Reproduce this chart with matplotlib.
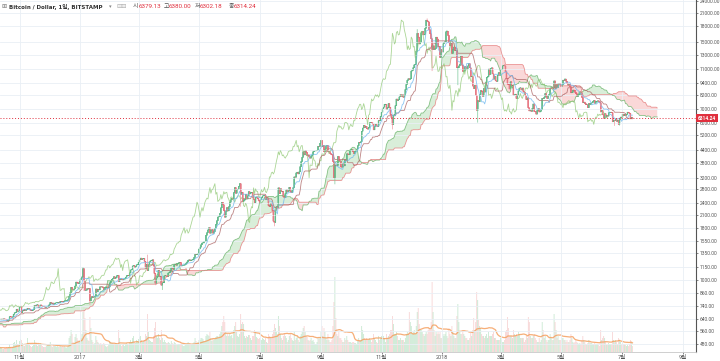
import numpy as np
import pandas as pd
import matplotlib
matplotlib.use('Agg')
import matplotlib.pyplot as plt
import matplotlib.dates as mdates
from matplotlib.ticker import NullLocator
from matplotlib.transforms import blended_transform_factory

# daily closes (BITSTAMP, USD), starting 2016-07-20
close_2016_07 = [665, 665, 650, 655, 660, 655, 652, 655, 655, 656, 655, 624]
close_2016_08 = [606, 540, 566, 575, 575, 587, 592, 591, 587, 592, 589, 587, 585, 570, 567, 581,
                 574, 574, 575, 581, 581, 587, 584, 579, 577, 579, 570, 574, 574, 577, 573]
close_2016_09 = [572, 575, 598, 609, 606, 610, 613, 627, 622, 623, 606, 608, 609, 610, 607,
                 607, 606, 610, 609, 608, 597, 596, 603, 602, 600, 607, 604, 604, 605, 609]
close_2016_10 = [613, 610, 611, 608, 612, 611, 617, 618, 615, 617, 640, 636, 636, 639, 637, 640,
                 638, 637, 630, 630, 632, 656, 655, 652, 655, 675, 686, 688, 715, 698, 700]
close_2016_11 = [730, 740, 688, 704, 703, 712, 705, 710, 723, 716, 716, 705, 702, 706, 712,
                 744, 740, 750, 750, 730, 738, 750, 742, 737, 740, 733, 730, 733, 733, 742]
close_2016_12 = [752, 772, 764, 767, 756, 761, 767, 768, 771, 774, 769, 780, 780, 778, 777, 784,
                 790, 790, 790, 799, 830, 862, 917, 892, 889, 900, 931, 974, 970, 957, 962]
close_2017_01 = [998, 1017, 1033, 1135, 989, 886, 888, 903, 899, 905, 785, 812, 826, 818, 822, 830,
                 900, 870, 897, 890, 922, 920, 922, 915, 893, 915, 918, 918, 913, 920, 965]
close_2017_02 = [985, 1006, 1015, 1035, 1015, 1025, 1046, 1050, 980, 1000, 1010, 999, 995, 1008,
                 1008, 1030, 1048, 1052, 1050, 1081, 1118, 1118, 1170, 1175, 1145, 1165, 1185, 1187]
close_2017_03 = [1220, 1255, 1280, 1260, 1270, 1275, 1235, 1150, 1190, 1110, 1185, 1225, 1240, 1245,
                 1255, 1175, 1075, 960, 1020, 1040, 1115, 1040, 1040, 940, 965, 965, 1045, 1045,
                 1040, 1035, 1080]
close_2017_04 = [1085, 1100, 1145, 1140, 1125, 1190, 1190, 1180, 1205, 1205, 1220, 1215, 1170, 1180,
                 1180, 1182, 1193, 1210, 1225, 1250, 1255, 1240, 1250, 1255, 1265, 1290, 1335, 1330,
                 1340, 1350]
close_2017_05 = [1420, 1450, 1490, 1520, 1520, 1545, 1550, 1660, 1710, 1765, 1810, 1700, 1760, 1770,
                 1700, 1730, 1800, 1880, 1960, 2045, 2050, 2130, 2270, 2420, 2350, 2200, 2040, 2180,
                 2275, 2190, 2300]
close_2017_06 = [2420, 2485, 2535, 2510, 2700, 2860, 2680, 2790, 2810, 2900, 2990, 2650, 2710, 2440,
                 2470, 2500, 2640, 2510, 2600, 2730, 2660, 2700, 2710, 2560, 2500, 2410, 2560, 2570,
                 2520, 2470]
close_2017_07 = [2420, 2500, 2550, 2600, 2600, 2600, 2500, 2550, 2500, 2330, 2300, 2390, 2340, 2200,
                 1950, 1920, 2210, 2300, 2270, 2850, 2670, 2820, 2740, 2740, 2580, 2550, 2670, 2790,
                 2720, 2760, 2870]
close_2017_08 = [2730, 2700, 2790, 2860, 3230, 3220, 3380, 3410, 3340, 3420, 3630, 3850, 4040, 4300,
                 4150, 4360, 4270, 4110, 4150, 4050, 4000, 4090, 4140, 4300, 4340, 4340, 4350, 4380,
                 4580, 4570, 4740]
close_2017_09 = [4900, 4550, 4620, 4300, 4440, 4600, 4620, 4300, 4310, 4220, 4180, 4150, 3850, 3200,
                 3700, 3690, 3680, 4080, 3900, 3870, 3620, 3610, 3780, 3660, 3920, 3880, 4200, 4190,
                 4160, 4340]
close_2017_10 = [4400, 4400, 4310, 4220, 4320, 4370, 4440, 4610, 4780, 4760, 4820, 5440, 5640, 5820,
                 5680, 5740, 5590, 5570, 5690, 5990, 6010, 5980, 5900, 5520, 5740, 5890, 5770, 5740,
                 6140, 6120, 6440]
close_2017_11 = [6740, 7030, 7160, 7390, 7390, 6960, 7110, 7450, 7140, 6580, 6340, 5860, 6530, 6600,
                 7280, 7850, 7690, 7780, 8040, 8240, 8100, 8230, 8010, 8200, 8750, 9280, 9720, 9890,
                 9820, 9890]
close_2017_12 = [10800, 10900, 11220, 11590, 11670, 13540, 16600, 15900, 14700, 15000, 16700, 17000,
                 16300, 16400, 17600, 19300, 19100, 18900, 17300, 16500, 15600, 13800, 14400, 13800,
                 13950, 15900, 15550, 14200, 14300, 12600, 13800]
close_2018_01 = [13400, 14750, 15000, 15100, 16900, 17000, 16200, 14900, 14400, 14800, 13200, 13800,
                 14200, 13600, 13600, 11200, 11200, 11450, 11700, 12800, 11550, 10750, 10800, 11350,
                 11200, 11100, 11450, 11750, 11200, 10100, 10150]
close_2018_02 = [9100, 8850, 9200, 8200, 6900, 7700, 7600, 8250, 8650, 8550, 8100, 8850, 8500, 9450,
                 10050, 10150, 11050, 10400, 11150, 11200, 10450, 9850, 10150, 9650, 9600, 10300,
                 10600, 10300]
close_2018_03 = [10950, 11000, 11450, 11500, 11450, 10700, 9900, 9300, 9250, 8800, 9550, 9150, 9150,
                 8200, 8250, 8300, 7900, 8200, 8600, 8900, 8900, 8700, 8900, 8550, 8450, 8150, 7800,
                 7950, 7100, 6850, 6930]
close_2018_04 = [6820, 7050, 7420, 6800, 6780, 6610, 6900, 7030, 6770, 6830, 6940, 7920, 7890, 8010,
                 8360, 8050, 7900, 8170, 8280, 8860, 8920, 8800, 8940, 9650, 8870, 9280, 8940, 9350,
                 9400, 9240]
close_2018_05 = [9070, 9220, 9740, 9700, 9860, 9620, 9370, 9190, 9320, 9020, 8420, 8480, 8700, 8680,
                 8480, 8340, 8060, 8240, 8240, 8520, 8400, 8000, 7540, 7580, 7460, 7350, 7350, 7110,
                 7460, 7380, 7490]
close_2018_06 = [7520, 7640, 7720, 7480, 7620, 7660, 7690, 7620, 7530, 6770, 6880, 6550, 6310, 6640,
                 6400, 6500, 6460, 6710, 6740, 6760, 6720, 6050, 6160, 6150, 6250, 6090, 6150, 5880,
                 6210, 6390]
close_2018_07 = [6350, 6610, 6500, 6590, 6530, 6600, 6760, 6710, 6660, 6300, 6379.13, 6314.24]

# daily volume in thousand BTC, starting 2016-09-20
vol_2016_09 = [4, 5, 4, 3, 3, 4, 4, 5, 4, 4, 5]
vol_2016_10 = [4, 3, 4, 4, 5, 4, 5, 3, 3, 4, 7, 6, 5, 4, 3, 3, 4, 4, 5, 4, 5, 8, 5, 4, 5, 9, 10, 8,
               12, 8, 7]
vol_2016_11 = [11, 13, 12, 9, 6, 6, 7, 8, 14, 9, 7, 6, 5, 6, 7, 12, 9, 9, 6, 8, 7, 9, 7, 6, 5, 5, 5,
               6, 7, 8]
vol_2016_12 = [8, 10, 6, 5, 7, 6, 6, 5, 6, 5, 5, 6, 5, 6, 5, 6, 5, 4, 5, 7, 14, 16, 22, 18, 10, 9,
               15, 18, 14, 12, 10]
vol_2017_01 = [12, 14, 18, 40, 46, 34, 22, 14, 12, 11, 35, 24, 12, 10, 8, 9, 16, 12, 10, 9, 8, 9, 7,
               8, 9, 8, 6, 5, 6, 7, 11]
vol_2017_02 = [10, 9, 9, 8, 8, 9, 9, 8, 22, 14, 8, 6, 7, 8, 6, 8, 9, 8, 7, 10, 12, 10, 14, 16, 10, 9,
               12, 11]
vol_2017_03 = [13, 15, 16, 12, 10, 11, 12, 18, 16, 38, 20, 12, 11, 10, 10, 16, 24, 30, 16, 14, 18, 14,
               12, 22, 14, 10, 12, 10, 9, 9, 10]
vol_2017_04 = [9, 8, 11, 9, 8, 10, 9, 7, 7, 8, 8, 7, 8, 7, 6, 6, 7, 8, 9, 10, 9, 8, 7, 8, 9, 10, 14,
               11, 9, 10]
vol_2017_05 = [12, 12, 14, 14, 13, 11, 10, 16, 18, 17, 16, 20, 14, 11, 14, 12, 13, 15, 16, 16, 14, 18,
               20, 26, 30, 36, 30, 20, 16, 18, 16]
vol_2017_06 = [18, 16, 17, 14, 22, 26, 30, 20, 16, 15, 18, 38, 28, 30, 28, 16, 14, 16, 15, 17, 17, 14,
               12, 16, 16, 22, 20, 15, 14, 13]
vol_2017_07 = [14, 12, 12, 14, 13, 12, 14, 10, 9, 18, 16, 15, 14, 18, 22, 28, 24, 20, 18, 36, 26, 18,
               14, 12, 16, 18, 16, 14, 10, 12, 16]
vol_2017_08 = [18, 14, 12, 11, 20, 12, 14, 16, 12, 10, 16, 18, 20, 24, 26, 20, 16, 15, 12, 11, 12, 14,
               11, 12, 10, 8, 8, 10, 14, 13, 14]
vol_2017_09 = [20, 26, 16, 24, 20, 14, 12, 18, 12, 10, 10, 12, 26, 50, 75, 34, 18, 16, 20, 14, 14, 12,
               10, 10, 14, 12, 16, 12, 10, 10]
vol_2017_10 = [10, 9, 10, 10, 9, 9, 8, 11, 14, 12, 12, 26, 22, 18, 14, 12, 14, 12, 12, 14, 12, 10, 12,
               18, 14, 12, 10, 9, 16, 12, 14]
vol_2017_11 = [16, 18, 16, 14, 10, 18, 14, 16, 18, 22, 22, 36, 28, 18, 18, 20, 16, 12, 12, 14, 12, 12,
               12, 10, 14, 18, 20, 18, 40, 30]
vol_2017_12 = [26, 18, 20, 22, 18, 26, 40, 44, 28, 22, 22, 20, 18, 16, 18, 20, 18, 22, 24, 22, 30, 70,
               40, 22, 16, 20, 18, 20, 18, 20, 14]
vol_2018_01 = [14, 18, 16, 18, 20, 16, 14, 24, 18, 16, 26, 20, 16, 14, 14, 36, 48, 30, 20, 18, 18, 22,
               18, 16, 14, 14, 12, 12, 14, 20, 16]
vol_2018_02 = [22, 34, 22, 30, 60, 52, 32, 26, 24, 18, 16, 16, 14, 16, 18, 14, 20, 16, 16, 16, 18, 20,
               14, 14, 12, 12, 12, 12]
vol_2018_03 = [14, 12, 10, 10, 12, 20, 22, 35, 24, 16, 16, 16, 14, 22, 18, 16, 18, 16, 20, 18, 14, 14,
               14, 14, 10, 12, 16, 14, 35, 30, 16]
vol_2018_04 = [14, 14, 16, 18, 14, 12, 10, 10, 14, 10, 12, 30, 22, 14, 16, 12, 10, 12, 12, 18, 14, 12,
               12, 38, 30, 22, 14, 16, 12, 12]
vol_2018_05 = [12, 14, 14, 12, 12, 10, 12, 10, 10, 12, 18, 14, 10, 9, 10, 12, 10, 9, 8, 9, 8, 12, 16,
               12, 10, 8, 7, 9, 12, 10, 9]
vol_2018_06 = [9, 8, 8, 9, 8, 8, 8, 7, 6, 22, 12, 14, 16, 14, 10, 7, 7, 9, 8, 8, 8, 20, 12, 10, 12,
               10, 8, 14, 12, 10]
vol_2018_07 = [8, 9, 8, 8, 7, 6, 7, 6, 8, 12, 10, 6]

# notable wick extremes
wick_high = {'2017-01-04': 1150, '2017-03-10': 1330, '2017-06-11': 3000, '2017-12-07': 17400,
             '2017-12-17': 19666, '2018-01-06': 17250, '2018-03-05': 11700, '2018-05-05': 9950,
             '2018-07-12': 6380.00}
wick_low = {'2017-01-05': 880, '2017-01-11': 750, '2017-03-18': 940, '2017-03-25': 890,
            '2017-06-12': 2300, '2017-07-16': 1840, '2017-09-15': 2970, '2017-11-12': 5550,
            '2017-12-22': 10800, '2018-01-17': 9200, '2018-02-06': 6000, '2018-04-06': 6550,
            '2018-06-24': 5780, '2018-06-29': 5800, '2018-07-12': 6302.18}

header_ohlc = ['6379.13', '6380.00', '6302.18', '6314.24']
last_price = 6314.24

price_ticks = [480, 560, 640, 740, 860, 1000, 1150, 1350, 1550, 1800, 2100, 2400, 2800, 3200, 3800,
               4400, 5200, 6000, 7000, 8200, 9400, 11000, 13000, 15000, 18000, 21000, 24000]
month_ticks = ['2016-11-01', '2017-01-01', '2017-03-01', '2017-05-01', '2017-07-01', '2017-09-01',
               '2017-11-01', '2018-01-01', '2018-03-01', '2018-05-01', '2018-07-01', '2018-09-01']
month_labels = ['11월', '2017', '3월', '5월', '7월', '9월', '11월', '2018', '3월', '5월', '7월', '9월']

closes = (close_2016_07 + close_2016_08 + close_2016_09 + close_2016_10 + close_2016_11 +
          close_2016_12 + close_2017_01 + close_2017_02 + close_2017_03 + close_2017_04 +
          close_2017_05 + close_2017_06 + close_2017_07 + close_2017_08 + close_2017_09 +
          close_2017_10 + close_2017_11 + close_2017_12 + close_2018_01 + close_2018_02 +
          close_2018_03 + close_2018_04 + close_2018_05 + close_2018_06 + close_2018_07)
volumes = (vol_2016_09 + vol_2016_10 + vol_2016_11 + vol_2016_12 + vol_2017_01 + vol_2017_02 +
           vol_2017_03 + vol_2017_04 + vol_2017_05 + vol_2017_06 + vol_2017_07 + vol_2017_08 +
           vol_2017_09 + vol_2017_10 + vol_2017_11 + vol_2017_12 + vol_2018_01 + vol_2018_02 +
           vol_2018_03 + vol_2018_04 + vol_2018_05 + vol_2018_06 + vol_2018_07)

dates = pd.date_range('2016-07-20', periods=len(closes), freq='D')
df = pd.DataFrame({'close': closes}, index=dates, dtype=float)
df['open'] = df['close'].shift(1).fillna(df['close'])
df['high'] = df[['open', 'close']].max(axis=1)
df['low'] = df[['open', 'close']].min(axis=1)
for d, v in wick_high.items():
    df.loc[pd.Timestamp(d), 'high'] = v
for d, v in wick_low.items():
    df.loc[pd.Timestamp(d), 'low'] = v

vdates = pd.date_range('2016-09-20', periods=len(volumes), freq='D')
vol = pd.Series(volumes, index=vdates, dtype=float)
vol_ma = vol.rolling(20, min_periods=1).mean()

# ichimoku
def donchian(n):
    return (df['high'].rolling(n, min_periods=1).max() + df['low'].rolling(n, min_periods=1).min()) / 2

conv = donchian(9)
base = donchian(26)
offset = 25
future = pd.date_range(dates[-1] + pd.Timedelta(days=1), periods=offset, freq='D')
all_dates = dates.append(future)
lead_a = np.r_[np.full(offset, np.nan), ((conv + base) / 2).values]
lead_b = np.r_[np.full(offset, np.nan), donchian(52).values]

X = mdates.date2num(dates)
XA = mdates.date2num(all_dates)

fig = plt.figure(figsize=(7.2, 3.61), dpi=100)
pos = [0, 9 / 361, 696 / 720, 352 / 361]
axv = fig.add_axes(pos)
ax = fig.add_axes(pos, sharex=axv)
ax.set_zorder(2)
ax.patch.set_visible(False)

# volume
vx = mdates.date2num(vdates)
up_v = (df['close'] >= df['open']).reindex(vdates).values
axv.bar(vx, vol.values, width=0.75, color=np.where(up_v, '#a8dbb6', '#f3baba'), alpha=0.7,
        lw=0, snap=False)
axv.plot(vx, vol_ma.values, color='#f5a060', lw=0.9, alpha=0.85)
axv.set_ylim(0, 352)
axv.axis('off')

ax.set_yscale('log')
ax.set_ylim(438.6, 24276)
t0 = mdates.date2num(pd.Timestamp('2017-01-01')) - 80 / 0.9918
ax.set_xlim(t0, t0 + 696 / 0.9918)

# cloud
ax.fill_between(XA, lead_a, lead_b, where=lead_a >= lead_b, interpolate=True,
                color='#cde9cd', alpha=0.75, lw=0)
ax.fill_between(XA, lead_a, lead_b, where=lead_a < lead_b, interpolate=True,
                color='#f9cccc', alpha=0.75, lw=0)
ax.plot(XA, lead_a, color='#6cb46c', lw=0.6, alpha=0.8)
ax.plot(XA, lead_b, color='#e57c7c', lw=0.6, alpha=0.8)
ax.plot(X[:-offset], df['close'].values[offset:], color='#8fc873', lw=0.6, alpha=0.75)
ax.plot(X, base.values, color='#a85c5c', lw=0.6, alpha=0.75)
ax.plot(X, conv.values, color='#6db8f0', lw=0.6, alpha=0.8)

# candles
up = (df['close'] >= df['open']).values
o = df['open'].values
c = df['close'].values
ax.vlines(X, df['low'].values, df['high'].values, colors=np.where(up, '#7cc99a', '#ee9aa2'),
          lw=0.5, snap=False)
ax.bar(X, np.maximum(np.abs(c - o), c * 0.002), bottom=np.minimum(o, c), width=0.95,
       color=np.where(up, '#1f9a5e', '#d9263a'), lw=0.25,
       edgecolor=np.where(up, '#1f9a5e', '#d9263a'), snap=False)

ax.axhline(last_price, color='#e0303e', ls=(0, (1.0, 2.0)), lw=0.7)

# axes styling
tick_font = ['Roboto', 'DejaVu Sans']
ax.yaxis.tick_right()
ax.set_yticks(price_ticks)
ax.set_yticklabels([f'{t:.2f}' for t in price_ticks], family=tick_font)
ax.yaxis.set_minor_locator(NullLocator())
ax.tick_params(axis='y', labelsize=3.5, colors='#555555', length=1.5, width=0.5, pad=1.0)
ax.set_xticks(mdates.date2num(pd.to_datetime(month_ticks)))
ax.set_xticklabels(month_labels, family=['Roboto', 'Noto Sans CJK KR'])
ax.tick_params(axis='x', labelsize=4, colors='#555555', length=1.5, width=0.5, pad=1)
ax.grid(True, color='#e9eff5', lw=0.6)
for s in ['left', 'top']:
    ax.spines[s].set_visible(False)
ax.spines['right'].set_color('#555555')
ax.spines['right'].set_linewidth(0.8)
ax.spines['bottom'].set_color('#c8c8c8')
ax.spines['bottom'].set_linewidth(0.6)

tr = blended_transform_factory(ax.transAxes, ax.transData)
ax.text(1.003, last_price, f'{last_price:.2f}', transform=tr, fontsize=3.5, color='white',
        va='center', ha='left', fontweight='bold', family=tick_font,
        bbox=dict(boxstyle='square,pad=0.35', fc='#e0303e', ec='none'))

# header
fam = ['DejaVu Sans', 'Noto Sans CJK KR']
hy = 1 - 7 / 361
fig.text(1 / 720, hy, '⊞', fontsize=4.5, color='#777777', va='center', family=['DejaVu Sans'])
fig.text(9 / 720, hy, 'Bitcoin / Dollar, 1일, BITSTAMP', fontsize=4.0, color='#333333',
         va='center', family=fam, fontweight='bold')
fig.text(109 / 720, hy, '▾', fontsize=3.8, color='#888888', va='center', family=['DejaVu Sans'])
fig.text(116 / 720, hy, '⊟⊟', fontsize=4.5, color='#aaaaaa', va='center', family=['DejaVu Sans'])
for lab, val, xl, xv in zip(['시', '고', '저', '종'], header_ohlc, [133, 164, 195, 229], [139, 169, 200, 234]):
    fig.text(xl / 720, hy, lab, fontsize=4.3, color='#555555', va='center', family=['Noto Sans CJK KR'])
    fig.text(xv / 720, hy, val, fontsize=4.5, color='#e0303e', va='center', family=['Roboto'])

fig.savefig('out.png', dpi=100)
